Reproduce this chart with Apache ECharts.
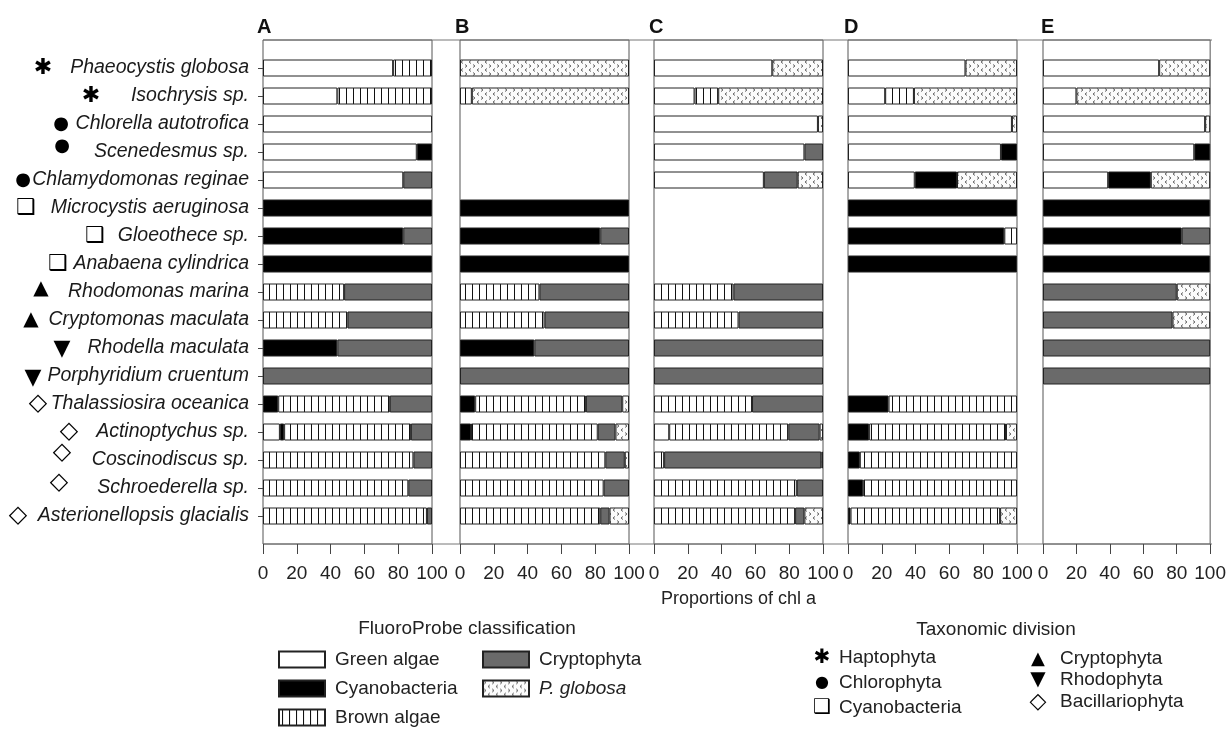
<!DOCTYPE html>
<html>
<head>
<meta charset="utf-8">
<title>Proportions of chl a</title>
<script src="https://cdn.jsdelivr.net/npm/echarts@6/dist/echarts.min.js"></script>
<style>
html, body { margin: 0; padding: 0; background: #fff; }
#chart { width: 1229px; height: 733px; }
</style>
</head>
<body>
<div id="chart"></div>
<script>
var species = ['Phaeocystis globosa', 'Isochrysis sp.', 'Chlorella autotrofica', 'Scenedesmus sp.',
    'Chlamydomonas reginae', 'Microcystis aeruginosa', 'Gloeothece sp.', 'Anabaena cylindrica',
    'Rhodomonas marina', 'Cryptomonas maculata', 'Rhodella maculata', 'Porphyridium cruentum',
    'Thalassiosira oceanica', 'Actinoptychus sp.', 'Coscinodiscus sp.', 'Schroederella sp.',
    'Asterionellopsis glacialis'];
var taxon = ['hapto', 'hapto', 'chloro', 'chloro', 'chloro', 'cyano', 'cyano', 'cyano',
    'crypto', 'crypto', 'rhodo', 'rhodo', 'bacil', 'bacil', 'bacil', 'bacil', 'bacil'];
var panels = ['A', 'B', 'C', 'D', 'E'];
var classes = ['Green algae', 'Cyanobacteria', 'Brown algae', 'Cryptophyta', 'P. globosa'];
var xTicks = [0, 20, 40, 60, 80, 100];

// panel A
var greenA  = [77, 44, 100, 91, 83, '-', '-', '-', '-', '-', '-', '-', '-', 10, '-', '-', '-'];
var cyanoA  = ['-', '-', '-', 9, '-', 100, 83, 100, '-', '-', 44, '-', 9, 2.5, '-', '-', '-'];
var brownA  = [23, 56, '-', '-', '-', '-', '-', '-', 48, 50, '-', '-', 66, 75, 89, 86, 97];
var cryptoA = ['-', '-', '-', '-', 17, '-', 17, '-', 52, 50, 56, 100, 25, 12.5, 11, 14, 3];
var globA   = ['-', '-', '-', '-', '-', '-', '-', '-', '-', '-', '-', '-', '-', '-', '-', '-', '-'];
// panel B
var greenB  = ['-', '-', '-', '-', '-', '-', '-', '-', '-', '-', '-', '-', '-', '-', '-', '-', '-'];
var cyanoB  = ['-', '-', '-', '-', '-', 100, 83, 100, '-', '-', 44, '-', 9, 6.5, '-', '-', '-'];
var brownB  = ['-', 7, '-', '-', '-', '-', '-', '-', 47, 50, '-', '-', 65.5, 75, 86, 85, 83];
var cryptoB = ['-', '-', '-', '-', '-', '-', 17, '-', 53, 50, 56, 100, 21.5, 10.5, 11.5, 15, 5.5];
var globB   = [100, 93, '-', '-', '-', '-', '-', '-', '-', '-', '-', '-', 4, 8, 2.5, '-', 11.5];
// panel C
var greenC  = [70, 24, 97, 89, 65, '-', '-', '-', '-', '-', '-', '-', '-', 9, '-', '-', '-'];
var cyanoC  = ['-', '-', '-', '-', '-', '-', '-', '-', '-', '-', '-', '-', '-', '-', '-', '-', '-'];
var brownC  = ['-', 14, '-', '-', '-', '-', '-', '-', 47, 50, '-', '-', 58, 70.5, 6, 84.5, 83.5];
var cryptoC = ['-', '-', '-', 11, 20, '-', '-', '-', 53, 50, 100, 100, 42, 18.5, 93, 15.5, 5.5];
var globC   = [30, 62, 3, '-', 15, '-', '-', '-', '-', '-', '-', '-', '-', 2, 1, '-', 11];
// panel D
var greenD  = [69.5, 22, 97, 90.5, 39.5, '-', '-', '-', '-', '-', '-', '-', '-', '-', '-', '-', '-'];
var cyanoD  = ['-', '-', '-', 9.5, 25, 100, 92.5, 100, '-', '-', '-', '-', 24, 12.5, 7, 9, 1.5];
var brownD  = ['-', 17, '-', '-', '-', '-', 7.5, '-', '-', '-', '-', '-', 76, 81, 93, 91, 88.5];
var cryptoD = ['-', '-', '-', '-', '-', '-', '-', '-', '-', '-', '-', '-', '-', '-', '-', '-', '-'];
var globD   = [30.5, 61, 3, '-', 35.5, '-', '-', '-', '-', '-', '-', '-', '-', 6.5, '-', '-', 10];
// panel E
var greenE  = [69.5, 20, 97, 90.5, 39, '-', '-', '-', '-', '-', '-', '-', '-', '-', '-', '-', '-'];
var cyanoE  = ['-', '-', '-', 9.5, 25.5, 100, 83, 100, '-', '-', '-', '-', '-', '-', '-', '-', '-'];
var brownE  = ['-', '-', '-', '-', '-', '-', '-', '-', '-', '-', '-', '-', '-', '-', '-', '-', '-'];
var cryptoE = ['-', '-', '-', '-', '-', '-', 17, '-', 80, 77.5, 100, 100, '-', '-', '-', '-', '-'];
var globE   = [30.5, 80, 3, '-', 35.5, '-', '-', '-', 20, 22.5, '-', '-', '-', '-', '-', '-', '-'];

var panelData = [
    [greenA, cyanoA, brownA, cryptoA, globA],
    [greenB, cyanoB, brownB, cryptoB, globB],
    [greenC, cyanoC, brownC, cryptoC, globC],
    [greenD, cyanoD, brownD, cryptoD, globD],
    [greenE, cyanoE, brownE, cryptoE, globE]
];

// fill patterns
function stripes() {
    var c = document.createElement('canvas');
    c.width = 7; c.height = 8;
    var g = c.getContext('2d');
    g.fillStyle = '#fff'; g.fillRect(0, 0, 7, 8);
    g.fillStyle = '#111'; g.fillRect(3, 0, 1, 8);
    return c;
}
function chevrons() {
    var c = document.createElement('canvas');
    c.width = 8; c.height = 8;
    var g = c.getContext('2d');
    g.fillStyle = '#fbfbfb'; g.fillRect(0, 0, 8, 8);
    g.strokeStyle = '#666'; g.lineWidth = 1;
    g.beginPath();
    g.moveTo(1, 0.5); g.lineTo(3, 2); g.lineTo(1, 3.5);
    g.moveTo(7, 4.5); g.lineTo(5, 6); g.lineTo(7, 7.5);
    g.stroke();
    return c;
}
var fills = ['#ffffff', '#000000', { image: stripes(), repeat: 'repeat' }, '#6a6a6a', { image: chevrons(), repeat: 'repeat' }];

var font = 'Liberation Sans';
var gridLeft = [263, 460, 654, 848, 1043];
var gridWidth = 169;
var cats = [' '].concat(species).concat(['  ']);

var grids = [], xAxes = [], yAxes = [], series = [];
panels.forEach(function (p, pi) {
    grids.push({ left: gridLeft[pi], top: 40, width: gridWidth, height: 504, show: true,
        borderColor: '#555', borderWidth: 1, backgroundColor: 'transparent' });
    xAxes.push({
        gridIndex: pi, type: 'value', min: 0, max: 100, interval: 20,
        axisLine: { show: false },
        axisTick: { show: true, length: 10, lineStyle: { color: '#444' } },
        splitLine: { show: false },
        axisLabel: { fontSize: 19, fontFamily: font, color: '#222', margin: 20 },
        name: pi === 2 ? 'Proportions of chl a' : '',
        nameLocation: 'middle', nameGap: 46,
        nameTextStyle: { fontSize: 18, fontFamily: font, color: '#222' }
    });
    yAxes.push({
        gridIndex: pi, type: 'category', data: cats, inverse: true, boundaryGap: false,
        axisLine: { show: false },
        axisTick: { show: pi === 0, length: 5, lineStyle: { color: '#444' },
            interval: function (i) { return i > 0 && i < cats.length - 1; } },
        axisLabel: { show: pi === 0, interval: 0, fontSize: 19.5, fontStyle: 'italic',
            fontFamily: font, color: '#1a1a1a', margin: 14 }
    });
    classes.forEach(function (c, ci) {
        series.push({
            name: c, type: 'bar', stack: 'p' + pi, xAxisIndex: pi, yAxisIndex: pi,
            barWidth: 17, silent: true,
            data: ['-'].concat(panelData[pi][ci]).concat(['-']),
            itemStyle: { color: fills[ci], borderColor: '#222', borderWidth: 1 }
        });
    });
});

var legendText = { fontSize: 19, fontFamily: font, color: '#222', padding: [0, 0, 0, 5] };
var option = {
    animation: false,
    grid: grids,
    xAxis: xAxes,
    yAxis: yAxes,
    legend: [
        { orient: 'vertical', left: 273, top: 645, height: 110, itemWidth: 46, itemHeight: 16, itemGap: 10,
          icon: 'rect', data: ['Green algae', 'Cyanobacteria', 'Brown algae'], textStyle: legendText, selectedMode: false },
        { orient: 'vertical', left: 477, top: 645, height: 110, itemWidth: 46, itemHeight: 16, itemGap: 10,
          icon: 'rect', data: ['Cryptophyta', { name: 'P. globosa', textStyle: { fontStyle: 'italic' } }],
          textStyle: legendText, selectedMode: false }
    ],
    series: series
};

var myChart = echarts.init(document.getElementById('chart'));
myChart.setOption(option);

// decorations: panel letters, outer frame lines, taxon symbols, taxonomic legend
var glyph = { hapto: '\u2731', chloro: '\u25CF', cyano: '\u2751', crypto: '\u25B2', rhodo: '\u25BC', bacil: '\u25C7' };
var glyphSize = { hapto: 22, chloro: 18, cyano: 22, crypto: 20, rhodo: 22, bacil: 24 };
var symX = [43, 91, 61, 62, 23, 26, 95, 58, 41, 31, 62, 33, 38, 69, 62, 59, 18];
var symDy = [0, 0, 0, -6, 0, 0, 0, 0, -3, 0, 1, 2, 0, 0, -7, -5, 0];
var letterX = [257, 455, 649, 844, 1041];

var g = [];
g.push({ type: 'line', shape: { x1: gridLeft[0], y1: 40, x2: gridLeft[4] + gridWidth, y2: 40 }, style: { stroke: '#777', lineWidth: 1 } });
g.push({ type: 'line', shape: { x1: gridLeft[0], y1: 544, x2: gridLeft[4] + gridWidth, y2: 544 }, style: { stroke: '#777', lineWidth: 1 } });
panels.forEach(function (p, pi) {
    g.push({ type: 'text', style: { text: p, x: letterX[pi], y: 27, font: 'bold 20px ' + font, fill: '#111', textVerticalAlign: 'middle' } });
});
species.forEach(function (s, i) {
    var y = myChart.convertToPixel({ yAxisIndex: 0 }, s);
    var t = taxon[i];
    g.push({ type: 'text', style: { text: glyph[t], x: symX[i], y: y + symDy[i], textAlign: 'center', textVerticalAlign: 'middle',
        font: glyphSize[t] + 'px "DejaVu Sans"', fill: '#000' } });
});
g.push({ type: 'text', style: { text: 'FluoroProbe classification', x: 467, y: 629, textAlign: 'center', textVerticalAlign: 'middle', font: '19px ' + font, fill: '#222' } });
g.push({ type: 'text', style: { text: 'Taxonomic division', x: 996, y: 630, textAlign: 'center', textVerticalAlign: 'middle', font: '19px ' + font, fill: '#222' } });

var taxLegend = [
    { t: 'hapto', label: 'Haptophyta', sx: 822, tx: 839, y: 658 },
    { t: 'chloro', label: 'Chlorophyta', sx: 822, tx: 839, y: 683 },
    { t: 'cyano', label: 'Cyanobacteria', sx: 822, tx: 839, y: 708 },
    { t: 'crypto', label: 'Cryptophyta', sx: 1038, tx: 1060, y: 659 },
    { t: 'rhodo', label: 'Rhodophyta', sx: 1038, tx: 1060, y: 680 },
    { t: 'bacil', label: 'Bacillariophyta', sx: 1038, tx: 1060, y: 702 }
];
taxLegend.forEach(function (d) {
    g.push({ type: 'text', style: { text: glyph[d.t], x: d.sx, y: d.y, textAlign: 'center', textVerticalAlign: 'middle',
        font: (glyphSize[d.t] - 2) + 'px "DejaVu Sans"', fill: '#000' } });
    g.push({ type: 'text', style: { text: d.label, x: d.tx, y: d.y, textVerticalAlign: 'middle', font: '19px ' + font, fill: '#222' } });
});
myChart.setOption({ graphic: g });
</script>
</body>
</html>
